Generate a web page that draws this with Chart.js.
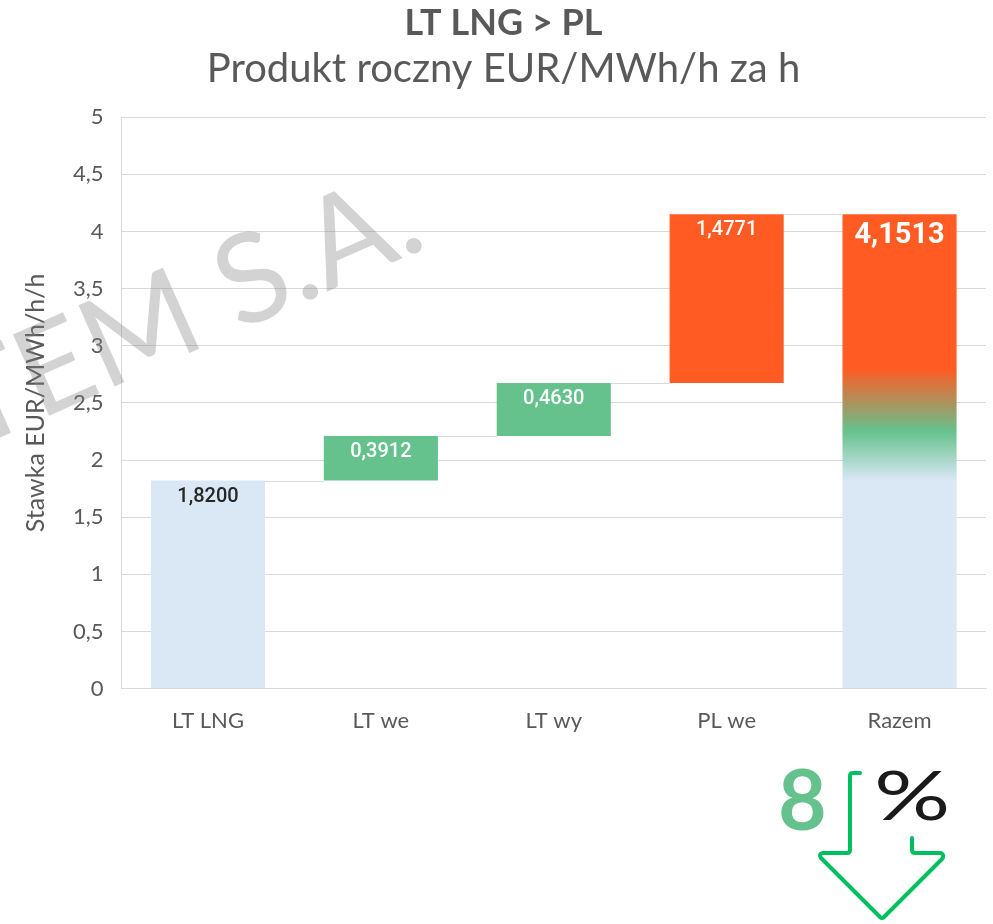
<!DOCTYPE html>
<html lang="pl">
<head>
<meta charset="utf-8">
<title>LT LNG > PL</title>
<script src="https://cdn.jsdelivr.net/npm/chart.js@4.4.1/dist/chart.umd.min.js"></script>
<style>
    html, body { margin: 0; padding: 0; background: #ffffff; }
    #wrap { position: relative; width: 993px; height: 924px; overflow: hidden; }
    #chart { position: absolute; left: 0; top: 0; }
    .big8 { position: absolute; left: 778px; top: 756px; font: bold 84px Lato, sans-serif; color: #66C28D; line-height: 1; }
    .pct { position: absolute; left: 874px; top: 760px; font: 68px Lato, sans-serif; color: #1a1a1a; line-height: 1;
           transform: scaleX(1.4); transform-origin: left top; }
    #arrow { position: absolute; left: 0; top: 0; }
</style>
</head>
<body>
<div id="wrap">
    <canvas id="chart" width="993" height="924"></canvas>
    <div class="big8">8</div>
    <div class="pct">%</div>
    <svg id="arrow" width="993" height="924">
        <path d="M860,773 L853,773 Q850,773 850,776 L850,850 Q850,853 847,853 L823,853 Q818,854 821,858 L880,917 Q882,919 884,917 L942,859 Q945,855 941,853 L915,853 Q912,853 912,850 L912,838"
              fill="none" stroke="#00BF5F" stroke-width="4" stroke-linecap="round" stroke-linejoin="round"/>
    </svg>
</div>
<script>
document.addEventListener('DOMContentLoaded', () => {
    // --- Dane ---
    const categories = ['LT LNG', 'LT we', 'LT wy', 'PL we', 'Razem'];
    const increments = [1.8200, 0.3912, 0.4630, 1.4771];
    const total = 4.1513;
    const valueLabels = ['1,8200', '0,3912', '0,4630', '1,4771', '4,1513'];

    // --- Kolory ---
    const BLUE = '#DAE7F5';
    const GREEN = '#66C28D';
    const ORANGE = '#FF5B23';
    const GRID = '#d9d9d9';
    const TEXT = '#595959';

    // słupki pływające (waterfall)
    let running = 0;
    const floating = increments.map(v => {
        const bar = [running, running + v];
        running += v;
        return bar;
    });
    floating.push([0, total]);
    const levels = floating.map(b => b[1]);

    function totalGradient(chart) {
        const y = chart.scales.y;
        if (!y) return ORANGE;
        const top = y.getPixelForValue(5);
        const bottom = y.getPixelForValue(0);
        const g = chart.ctx.createLinearGradient(0, bottom, 0, top);
        const stop = v => Math.min(1, Math.max(0, v / 5));
        g.addColorStop(0, BLUE);
        g.addColorStop(stop(increments[0]), BLUE);
        g.addColorStop(stop(2.25), GREEN);
        g.addColorStop(stop(2.8), ORANGE);
        g.addColorStop(1, ORANGE);
        return g;
    }

    const barColors = [BLUE, GREEN, GREEN, ORANGE, null];

    // linie łączące słupki
    const connectorPlugin = {
        id: 'connectors',
        afterDatasetsDraw(chart) {
            const meta = chart.getDatasetMeta(0);
            const y = chart.scales.y;
            const ctx = chart.ctx;
            ctx.save();
            ctx.strokeStyle = GRID;
            ctx.lineWidth = 1;
            for (let i = 0; i < meta.data.length - 1; i++) {
                const a = meta.data[i];
                const b = meta.data[i + 1];
                const py = Math.round(y.getPixelForValue(levels[i])) + 0.5;
                ctx.beginPath();
                ctx.moveTo(a.x + a.width / 2, py);
                ctx.lineTo(b.x - b.width / 2, py);
                ctx.stroke();
            }
            ctx.restore();
        }
    };

    // etykiety wartości
    const labelPlugin = {
        id: 'valueLabels',
        afterDatasetsDraw(chart) {
            const meta = chart.getDatasetMeta(0);
            const ctx = chart.ctx;
            ctx.save();
            ctx.textAlign = 'center';
            ctx.textBaseline = 'middle';
            meta.data.forEach((bar, i) => {
                const top = Math.min(bar.y, bar.base);
                const isTotal = i === meta.data.length - 1;
                ctx.font = isTotal ? 'bold 29px Roboto, sans-serif' : '500 20px Roboto, sans-serif';
                ctx.fillStyle = i === 0 ? '#262626' : '#ffffff';
                ctx.fillText(valueLabels[i], bar.x, top + (isTotal ? 22 : 16));
            });
            ctx.restore();
        }
    };

    // znak wodny
    const watermarkPlugin = {
        id: 'watermark',
        afterDraw(chart) {
            const ctx = chart.ctx;
            ctx.save();
            ctx.translate(430, 246);
            ctx.rotate(-24 * Math.PI / 180);
            ctx.font = '124px Lato, sans-serif';
            ctx.fillStyle = 'rgba(128,128,128,0.35)';
            ctx.textAlign = 'right';
            ctx.textBaseline = 'alphabetic';
            ctx.fillText('GAZ-SYSTEM S.A.', 0, 0);
            ctx.restore();
        }
    };

    const ctx = document.getElementById('chart').getContext('2d');
    new Chart(ctx, {
        type: 'bar',
        data: {
            labels: categories,
            datasets: [{
                data: floating,
                backgroundColor: (c) => barColors[c.dataIndex] || totalGradient(c.chart),
                borderWidth: 0,
                barPercentage: 0.66,
                categoryPercentage: 1
            }]
        },
        options: {
            responsive: false,
            animation: false,
            devicePixelRatio: 1,
            layout: { padding: { left: 21, right: 7, top: 0, bottom: 179 } },
            plugins: {
                legend: { display: false },
                tooltip: { enabled: false },
                title: {
                    display: true,
                    text: 'LT LNG > PL',
                    color: TEXT,
                    font: { family: 'Lato', size: 36, weight: 'bold' },
                    padding: { top: 2, bottom: 0 }
                },
                subtitle: {
                    display: true,
                    text: 'Produkt roczny EUR/MWh/h za h',
                    color: TEXT,
                    font: { family: 'Lato', size: 40 },
                    padding: { top: 0, bottom: 24 }
                }
            },
            scales: {
                x: {
                    grid: { display: false },
                    border: { display: true, color: GRID },
                    ticks: { color: TEXT, font: { family: 'Lato', size: 22 }, padding: 11 }
                },
                y: {
                    min: 0,
                    max: 5,
                    grid: { color: GRID, drawTicks: false },
                    border: { display: true, color: GRID },
                    ticks: {
                        stepSize: 0.5,
                        color: TEXT,
                        padding: 18,
                        font: { family: 'Lato', size: 22 },
                        callback: v => String(v).replace('.', ',')
                    },
                    title: {
                        display: true,
                        text: 'Stawka EUR/MWh/h/h',
                        color: TEXT,
                        font: { family: 'Lato', size: 25 },
                        padding: { top: 0, bottom: 4 }
                    }
                }
            }
        },
        plugins: [connectorPlugin, labelPlugin, watermarkPlugin]
    });
});
</script>
</body>
</html>
